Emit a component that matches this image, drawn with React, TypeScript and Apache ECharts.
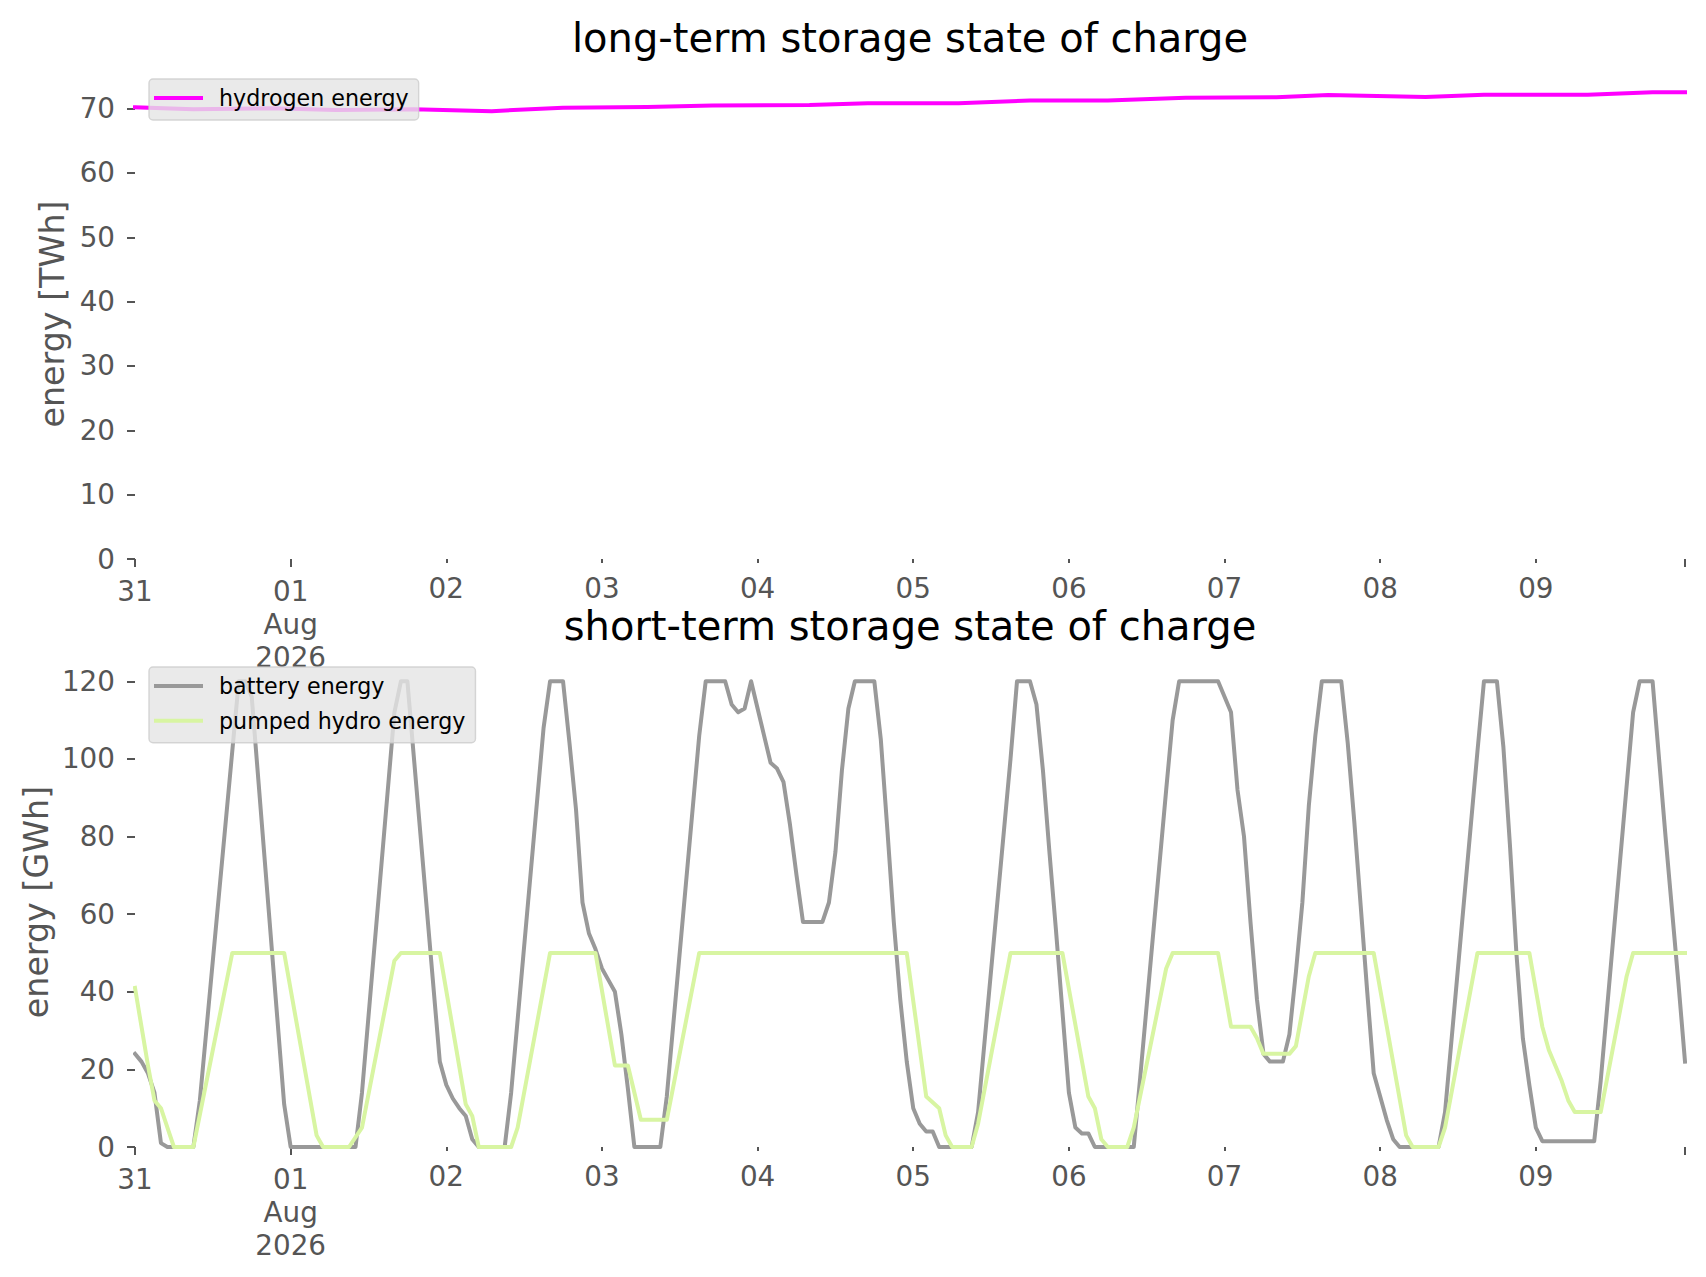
import React, { useEffect, useRef } from "react";
import * as echarts from "echarts";

// ---------- data ----------
const T0 = Date.UTC(2026, 6, 31); // 31 Jul 2026 00:00
const HOUR = 3600000;
const DAY = 24 * HOUR;
const LAST_HOUR = 239;

// long-term storage (TWh), hour offset from T0 -> value
const H2_HOURS = [0, 9, 21, 31, 43, 55, 66, 79, 89, 104, 113, 127, 138, 150, 162, 176, 184, 199, 208, 224, 234, 239];
const H2_VALUES = [70.2, 69.9, 70.05, 69.8, 69.9, 69.6, 70.15, 70.25, 70.5, 70.55, 70.85, 70.85, 71.25, 71.25, 71.7, 71.75, 72.1, 71.8, 72.15, 72.15, 72.55, 72.55];

// short-term storage (GWh)
const BATTERY_HOURS = [
  0, 1, 2, 3, 4, 5, 9, 10, 16, 17, 18, 23, 24,
  34, 35, 40, 41, 42, 47, 48, 49, 50, 51, 52, 53,
  57, 58, 63, 64, 66, 67, 68, 69, 70, 71, 72, 73, 74, 75, 76, 77,
  81, 82, 87, 88, 91, 92, 93, 94, 95, 96, 97, 98, 99, 100, 101, 102, 103, 106, 107, 108, 109, 110, 111, 114, 115, 116, 117, 118, 119, 120, 121, 122, 123, 124,
  129, 130, 135, 136, 137, 138, 139, 140, 141, 142, 143, 144, 145, 146, 147, 148,
  154, 155, 159, 160, 161, 167, 168, 169, 170, 171, 172, 173, 174, 175, 177, 178, 179, 180, 181, 182, 183, 186, 187, 188, 189, 190, 191, 192, 193, 194, 195,
  201, 202, 207, 208, 210, 211, 212, 213, 214, 215, 216, 217, 225, 226, 231, 232, 234, 235, 236, 237, 238, 239,
];
const BATTERY_VALUES = [
  24, 22, 19, 14, 1, 0, 0, 12, 120, 120, 116, 11, 0,
  0, 14, 112, 120, 120, 22, 16, 12.5, 10, 8, 2, 0,
  0, 14, 108, 120, 120, 104, 87, 63, 55, 51, 46, 43, 40, 29, 15, 0,
  0, 13, 106, 120, 120, 114, 112, 113, 120, 113, 106, 99, 97.5, 94, 83, 70, 58, 58, 63, 76, 97, 113, 120, 120, 105, 82, 58, 38, 22, 10, 6, 4, 4, 0,
  0, 9, 100, 120, 120, 120, 114, 97, 76, 56, 35, 14, 5, 3.5, 3.5, 0,
  0, 18, 92, 110, 120, 120, 116, 112, 92, 80, 58, 38, 24, 22, 22, 29, 45, 63, 88, 106, 120, 120, 104, 84, 62, 40, 19, 13, 7, 2, 0,
  0, 9, 102, 120, 120, 103, 78, 50, 28, 16, 5, 1.5, 1.5, 17, 112, 120, 120, 100, 80, 61, 42, 22,
];

const PHS_HOURS = [
  0, 1, 2, 3, 4, 5, 6, 9, 15, 23, 28, 29,
  33, 35, 40, 41, 47, 51, 52, 53,
  58, 59, 64, 71, 74, 76, 78, 82, 87,
  119, 122, 124, 125, 126,
  129, 130, 135, 143, 147, 148, 149, 150,
  153, 154, 159, 160, 167, 169, 172, 173, 174, 178, 179, 181, 182,
  191, 196, 197,
  201, 202, 207, 215, 217, 218, 220, 221, 222, 226, 230, 231, 239,
];
const PHS_VALUES = [
  41, 31, 21, 12, 10, 5, 0, 0, 50, 50, 3, 0,
  0, 5, 48, 50, 50, 11, 8, 0,
  0, 5, 50, 50, 21, 21, 7, 7, 50,
  50, 13, 10, 3, 0,
  0, 6, 50, 50, 13, 10, 2, 0,
  0, 5, 46, 50, 50, 31, 31, 28, 24, 24, 26, 44, 50,
  50, 3, 0,
  0, 5, 50, 50, 31, 25, 17, 12, 9, 9, 44, 50, 50,
];

const TOP_Y_TICKS = [0, 10, 20, 30, 40, 50, 60, 70];
const BOTTOM_Y_TICKS = [0, 20, 40, 60, 80, 100, 120];
const MAJOR_DAYS = [0, 1];
const MINOR_DAYS = [2, 3, 4, 5, 6, 7, 8, 9];

// ---------- styling ----------
const FONT = "DejaVu Sans";
const TICK_COLOR = "#555555";
const TICK_FONT = 27.8;

function pairs(hours: number[], values: number[]) {
  return hours.map((h, i) => [T0 + h * HOUR, values[i]]);
}

function dayLabel(v: number) {
  const d = new Date(v);
  const dd = String(d.getUTCDate()).padStart(2, "0");
  if (d.getUTCMonth() === 7 && d.getUTCDate() === 1) return dd + "\nAug\n2026";
  return dd;
}

function xAxesFor(gridIndex: number) {
  const end = T0 + LAST_HOUR * HOUR;
  const base = {
    type: "value",
    gridIndex,
    min: T0,
    max: end,
    position: "bottom",
    axisLine: { show: false },
    splitLine: { show: false },
  };
  const labelBase = {
    color: TICK_COLOR,
    fontSize: TICK_FONT,
    fontFamily: FONT,
    lineHeight: 33,
    formatter: (v: number) => dayLabel(v),
  };
  return [
    {
      ...base,
      axisTick: {
        show: true,
        length: 8,
        customValues: [...MAJOR_DAYS.map((d) => T0 + d * DAY), end],
        lineStyle: { color: TICK_COLOR, width: 2 },
      },
      axisLabel: { ...labelBase, margin: 16, customValues: MAJOR_DAYS.map((d) => T0 + d * DAY) },
    },
    {
      ...base,
      axisTick: {
        show: true,
        length: 4,
        customValues: MINOR_DAYS.map((d) => T0 + d * DAY),
        lineStyle: { color: TICK_COLOR, width: 2 },
      },
      axisLabel: { ...labelBase, margin: 12.5, customValues: MINOR_DAYS.map((d) => T0 + d * DAY) },
    },
  ];
}

function yAxisFor(gridIndex: number, max: number, ticks: number[]) {
  return {
    type: "value",
    gridIndex,
    min: 0,
    max,
    axisLine: { show: false },
    splitLine: { show: false },
    axisTick: { show: true, length: 8, customValues: ticks, lineStyle: { color: TICK_COLOR, width: 2 } },
    axisLabel: { customValues: ticks, margin: 20, color: TICK_COLOR, fontSize: TICK_FONT, fontFamily: FONT },
  };
}

function legendFor(names: string[], top: number) {
  return {
    data: names,
    left: 149,
    top,
    orient: "vertical",
    selectedMode: false,
    icon: "rect",
    itemWidth: 49,
    itemHeight: 4,
    itemGap: 8.7,
    padding: [6, 10, 9, 5],
    backgroundColor: "rgba(229,229,229,0.8)",
    borderColor: "rgba(204,204,204,0.8)",
    borderWidth: 1.4,
    borderRadius: 4,
    textStyle: {
      fontSize: 22.2,
      fontFamily: FONT,
      color: "#000000",
      lineHeight: 26,
      padding: [0, 0, 0, 11],
    },
  };
}

function lineSeries(name: string, color: string, axisIdx: number, yIdx: number, data: number[][]) {
  return {
    type: "line",
    name,
    xAxisIndex: axisIdx,
    yAxisIndex: yIdx,
    data,
    symbol: "none",
    showSymbol: false,
    itemStyle: { color },
    lineStyle: { color, width: 4, join: "round", cap: "square" },
  };
}

export default function App() {
  const ref = useRef<HTMLDivElement>(null);

  useEffect(() => {
    if (!ref.current) return;
    const chart = echarts.init(ref.current, undefined, { renderer: "svg" });
    const option = {
      animation: false,
      backgroundColor: "#ffffff",
      grid: [
        { left: 135, top: 70, width: 1550, height: 489 },
        { left: 135, top: 658, width: 1550, height: 489 },
      ],
      xAxis: [...xAxesFor(0), ...xAxesFor(1)],
      yAxis: [yAxisFor(0, 76, TOP_Y_TICKS), yAxisFor(1, 126, BOTTOM_Y_TICKS)],
      legend: [
        legendFor(["hydrogen energy"], 79),
        legendFor(["battery energy", "pumped hydro energy"], 667),
      ],
      series: [
        lineSeries("hydrogen energy", "#ff00ff", 0, 0, pairs(H2_HOURS, H2_VALUES)),
        lineSeries("battery energy", "#999999", 2, 1, pairs(BATTERY_HOURS, BATTERY_VALUES)),
        lineSeries("pumped hydro energy", "#d8f5a2", 2, 1, pairs(PHS_HOURS, PHS_VALUES)),
      ],
      graphic: [
        {
          type: "text",
          x: 910,
          y: 38,
          style: { text: "long-term storage state of charge", fontSize: 40, fontFamily: FONT, fill: "#000000", align: "center", verticalAlign: "middle" },
        },
        {
          type: "text",
          x: 910,
          y: 626,
          style: { text: "short-term storage state of charge", fontSize: 40, fontFamily: FONT, fill: "#000000", align: "center", verticalAlign: "middle" },
        },
        {
          type: "text",
          x: 52,
          y: 314,
          rotation: Math.PI / 2,
          style: { text: "energy [TWh]", fontSize: 33.3, fontFamily: FONT, fill: TICK_COLOR, align: "center", verticalAlign: "middle" },
        },
        {
          type: "text",
          x: 36,
          y: 902,
          rotation: Math.PI / 2,
          style: { text: "energy [GWh]", fontSize: 33.3, fontFamily: FONT, fill: TICK_COLOR, align: "center", verticalAlign: "middle" },
        },
      ],
    };
    chart.setOption(option as any);
    return () => chart.dispose();
  }, []);

  return (
    <div
      ref={ref}
      style={{ position: "absolute", left: 0, top: 0, width: 1706, height: 1277, background: "#ffffff" }}
    />
  );
}
